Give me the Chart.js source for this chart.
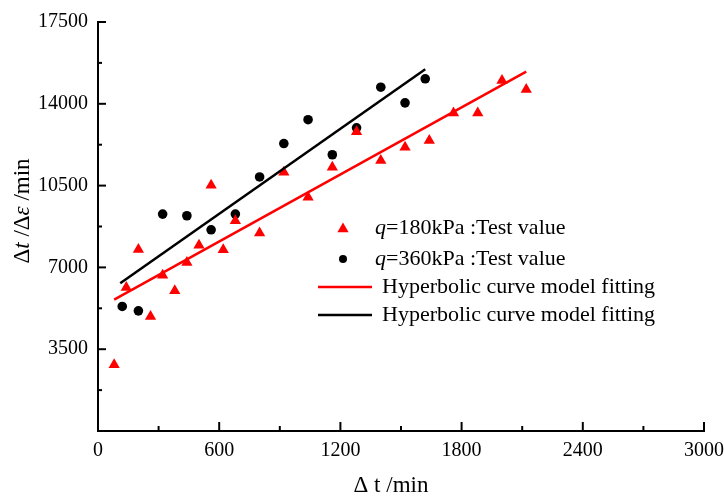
<!DOCTYPE html>
<html><head><meta charset="utf-8">
<script src="https://cdn.jsdelivr.net/npm/chart.js@4.4.1/dist/chart.umd.min.js"></script>
<style>html,body{margin:0;padding:0;background:#fff;}#wrap{width:724px;height:498px;}</style>
</head><body><div id="wrap"><canvas id="c" width="724" height="498"></canvas></div>
<script>
// ---- data ----
const xTickLabels = [0, 600, 1200, 1800, 2400, 3000];
const yTickLabels = [3500, 7000, 10500, 14000, 17500];

const q180X = [80, 140, 200, 260, 320, 380, 440, 500, 560, 620, 680, 800, 920, 1040, 1160, 1280, 1400, 1520, 1640, 1760, 1880, 2000, 2120];
const q180Y = [2830, 6140, 7770, 4900, 6660, 6000, 7210, 7950, 10510, 7760, 9000, 8470, 11070, 10000, 11280, 12800, 11570, 12140, 12430, 13610, 13610, 15000, 14610];

const q360X = [120, 200, 320, 440, 560, 680, 800, 920, 1040, 1160, 1280, 1400, 1520, 1620];
const q360Y = [5330, 5140, 9280, 9210, 8610, 9280, 10870, 12300, 13320, 11820, 12970, 14710, 14040, 15070];

const fit180X = [80, 2120];
const fit180Y = [5620, 15380];
const fit360X = [110, 1620];
const fit360Y = [6320, 15480];

const legendLabels = ['=180kPa :Test value', '=360kPa :Test value', 'Hyperbolic curve model fitting', 'Hyperbolic curve model fitting'];
const xTitle = ['Δ t /min'];
const yTitleParts = [['Δ', false], ['t', true], [' /Δ', false], ['ε', true], [' /min', false]];

const RED = '#ff0000', BLACK = '#000000';
const FONT = 'Liberation Serif';

const pts = (xs, ys) => xs.map((x, i) => ({x: x, y: ys[i]}));

const decor = {
  id: 'decor',
  afterDraw(chart) {
    const ctx = chart.ctx, xs = chart.scales.x, ys = chart.scales.y;
    const ca = chart.chartArea;
    ctx.save();
    ctx.strokeStyle = BLACK; ctx.lineWidth = 2;
    for (let v = 0; v <= 3000; v += 300) {
      const px = xs.getPixelForValue(v);
      const len = (v % 600 === 0) ? 9 : 5;
      ctx.beginPath(); ctx.moveTo(px, ca.bottom); ctx.lineTo(px, ca.bottom - len); ctx.stroke();
    }
    for (let v = 0; v <= 17500; v += 1750) {
      const py = ys.getPixelForValue(v);
      const len = (v % 3500 === 0) ? 8 : 4;
      ctx.beginPath(); ctx.moveTo(ca.left, py); ctx.lineTo(ca.left + len, py); ctx.stroke();
    }
    ctx.fillStyle = BLACK;
    ctx.font = '23px "' + FONT + '"';
    ctx.textBaseline = 'middle'; ctx.textAlign = 'center';
    ctx.fillText(xTitle[0], 391, 486);
    ctx.save();
    ctx.translate(23, 211); ctx.rotate(-Math.PI / 2);
    ctx.textAlign = 'left';
    let total = 0;
    const fnt = it => (it ? 'italic ' : '') + '23px "' + FONT + '"';
    yTitleParts.forEach(p => { ctx.font = fnt(p[1]); total += ctx.measureText(p[0]).width; });
    let cx = -total / 2;
    yTitleParts.forEach(p => { ctx.font = fnt(p[1]); ctx.fillText(p[0], cx, 0); cx += ctx.measureText(p[0]).width; });
    ctx.restore();
    const rows = [228, 259, 287, 315];
    ctx.textAlign = 'left'; ctx.textBaseline = 'middle';
    ctx.fillStyle = RED;
    const r = 6.5, tx = 343, ty = rows[0] + 1;
    ctx.beginPath();
    ctx.moveTo(tx, ty - r); ctx.lineTo(tx + r * 0.866, ty + r / 2); ctx.lineTo(tx - r * 0.866, ty + r / 2); ctx.closePath(); ctx.fill();
    ctx.fillStyle = BLACK;
    ctx.beginPath(); ctx.arc(343, rows[1], 4, 0, Math.PI * 2); ctx.fill();
    ctx.lineWidth = 2.5;
    ctx.strokeStyle = RED; ctx.beginPath(); ctx.moveTo(318, rows[2]); ctx.lineTo(372, rows[2]); ctx.stroke();
    ctx.strokeStyle = BLACK; ctx.beginPath(); ctx.moveTo(318, rows[3]); ctx.lineTo(372, rows[3]); ctx.stroke();
    ctx.fillStyle = BLACK;
    for (let i = 0; i < 2; i++) {
      ctx.font = 'italic 22px "' + FONT + '"';
      ctx.fillText('q', 375, rows[i]);
      const w = ctx.measureText('q').width;
      ctx.font = '22px "' + FONT + '"';
      ctx.fillText(legendLabels[i], 375 + w, rows[i]);
    }
    ctx.font = '22px "' + FONT + '"';
    ctx.fillText(legendLabels[2], 382, rows[2]);
    ctx.fillText(legendLabels[3], 382, rows[3]);
    ctx.restore();
  }
};

new Chart(document.getElementById('c'), {
  type: 'scatter',
  data: {
    datasets: [
      {label: 'fit180', data: pts(fit180X, fit180Y), showLine: true, borderColor: RED, borderWidth: 2.5, pointRadius: 0, order: 0},
      {label: 'fit360', data: pts(fit360X, fit360Y), showLine: true, borderColor: BLACK, borderWidth: 2.5, pointRadius: 0, order: 0},
      {label: 'q180', data: pts(q180X, q180Y), pointStyle: 'triangle', pointRadius: 6.5, backgroundColor: RED, borderWidth: 0, order: 1},
      {label: 'q360', data: pts(q360X, q360Y), pointStyle: 'circle', pointRadius: 4.8, backgroundColor: BLACK, borderWidth: 0, order: 1}
    ]
  },
  options: {
    responsive: false, animation: false, devicePixelRatio: 1,
    layout: {padding: {left: 0, right: 20, top: 22, bottom: 0}},
    events: [],
    plugins: {legend: {display: false}, tooltip: {enabled: false}},
    scales: {
      x: {
        type: 'linear', min: 0, max: 3000,
        afterBuildTicks: s => { s.ticks = xTickLabels.map(v => ({value: v})); },
        afterFit: s => { s.height = 67; s.paddingLeft = 0; s.paddingRight = 0; },
        grid: {display: false, drawTicks: false},
        border: {display: true, color: BLACK, width: 2},
        ticks: {color: BLACK, font: {family: FONT, size: 20}, padding: 8, maxRotation: 0, autoSkip: false, callback: v => String(v)}
      },
      y: {
        type: 'linear', min: 0, max: 17500,
        afterBuildTicks: s => { s.ticks = yTickLabels.map(v => ({value: v})); },
        afterFit: s => { s.width = 98; s.paddingTop = 0; s.paddingBottom = 0; },
        grid: {display: false, drawTicks: false},
        border: {display: true, color: BLACK, width: 2},
        ticks: {color: BLACK, font: {family: FONT, size: 20}, padding: 10, autoSkip: false, callback: v => String(v)}
      }
    }
  },
  plugins: [decor]
});
</script></body></html>
